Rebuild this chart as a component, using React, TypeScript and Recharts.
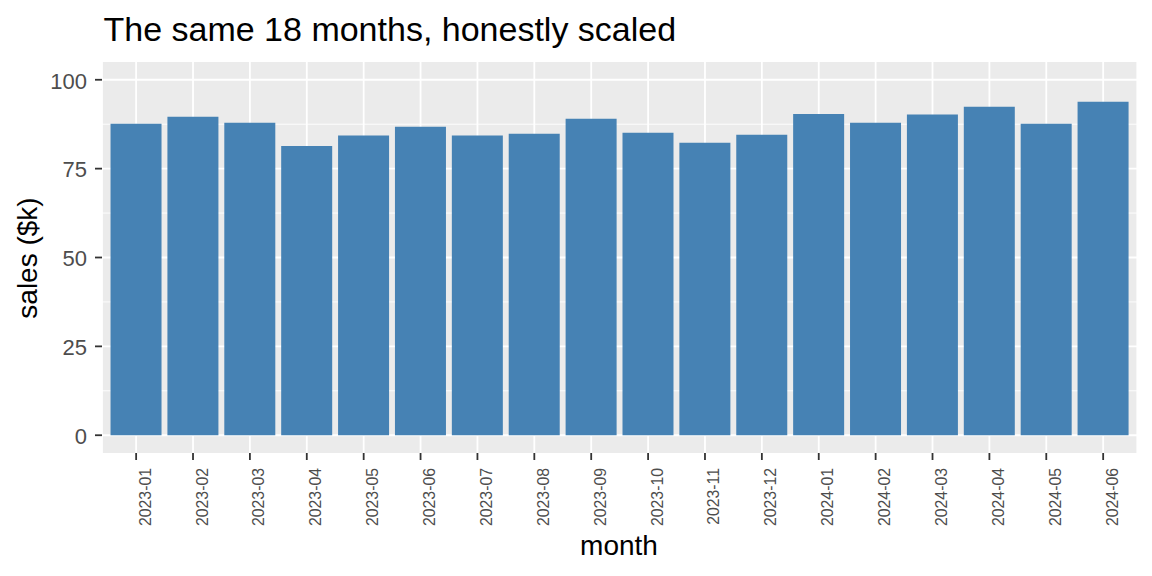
import React from "react";
import { BarChart, Bar, XAxis, YAxis, CartesianGrid } from "recharts";

const months = [
  "2023-01", "2023-02", "2023-03", "2023-04", "2023-05", "2023-06",
  "2023-07", "2023-08", "2023-09", "2023-10", "2023-11", "2023-12",
  "2024-01", "2024-02", "2024-03", "2024-04", "2024-05", "2024-06",
];
const sales = [
  87.6, 89.6, 87.9, 81.4, 84.3, 86.8, 84.3, 84.8, 89.0,
  85.1, 82.3, 84.5, 90.4, 87.9, 90.2, 92.4, 87.6, 93.8,
];
const yTicks = [0, 25, 50, 75, 100];
const yMinor = [12.5, 37.5, 62.5, 87.5];
const yDomain = [-5, 105];

const titleText = "The same 18 months, honestly scaled";
const xTitle = "month";
const yTitle = "sales ($k)";

const data = months.map((m, i) => ({ month: m, sales: sales[i] }));

const FONT = "'Liberation Sans', Arial, Helvetica, sans-serif";

const XTick = (props: any) => {
  const { x, y, payload } = props;
  return (
    <text
      x={x}
      y={y}
      dy={14.5}
      transform={`rotate(-90, ${x}, ${y})`}
      textAnchor="end"
      fontSize={15.8}
      fontFamily={FONT}
      fill="#4D4D4D"
    >
      {payload.value}
    </text>
  );
};

export default function App() {
  return (
    <div style={{ position: "absolute", left: 0, top: 0, width: 1152, height: 576, background: "#fff" }}>
      <BarChart
        width={1152}
        height={576}
        data={data}
        margin={{ top: 62, right: 14.7, bottom: 33, left: 42 }}
        barCategoryGap="5%"
      >
        <CartesianGrid
          fill="#EBEBEB"
          stroke="#FFFFFF"
          strokeWidth={0.9}
          vertical={false}
          horizontalValues={yMinor}
        />
        <CartesianGrid
          stroke="#FFFFFF"
          strokeWidth={1.8}
          horizontalValues={yTicks}
        />
        <XAxis
          dataKey="month"
          interval={0}
          height={90}
          padding={{ left: 5.69, right: 5.69 }}
          axisLine={false}
          tickLine={{ stroke: "#333333", strokeWidth: 1.8 }}
          tickSize={7}
          tickMargin={8}
          tick={<XTick />}
        />
        <YAxis
          type="number"
          domain={yDomain}
          ticks={yTicks}
          allowDataOverflow
          width={60}
          axisLine={false}
          tickLine={{ stroke: "#333333", strokeWidth: 1.8 }}
          tickSize={7}
          tickMargin={8}
          tick={{ fontSize: 22, fill: "#4D4D4D", fontFamily: FONT, dy: 1 }}
        />
        <Bar dataKey="sales" fill="#4682B4" isAnimationActive={false} />
      </BarChart>
      <svg
        width={1152}
        height={576}
        style={{ position: "absolute", left: 0, top: 0, pointerEvents: "none" }}
      >
        <text x={103.5} y={41} fontSize={34} fontFamily={FONT} fill="#000">
          {titleText}
        </text>
        <text x={619} y={555} fontSize={28} fontFamily={FONT} fill="#000" textAnchor="middle">
          {xTitle}
        </text>
        <text
          x={37}
          y={258}
          fontSize={28}
          fontFamily={FONT}
          fill="#000"
          textAnchor="middle"
          transform="rotate(-90, 37, 258)"
        >
          {yTitle}
        </text>
      </svg>
    </div>
  );
}
